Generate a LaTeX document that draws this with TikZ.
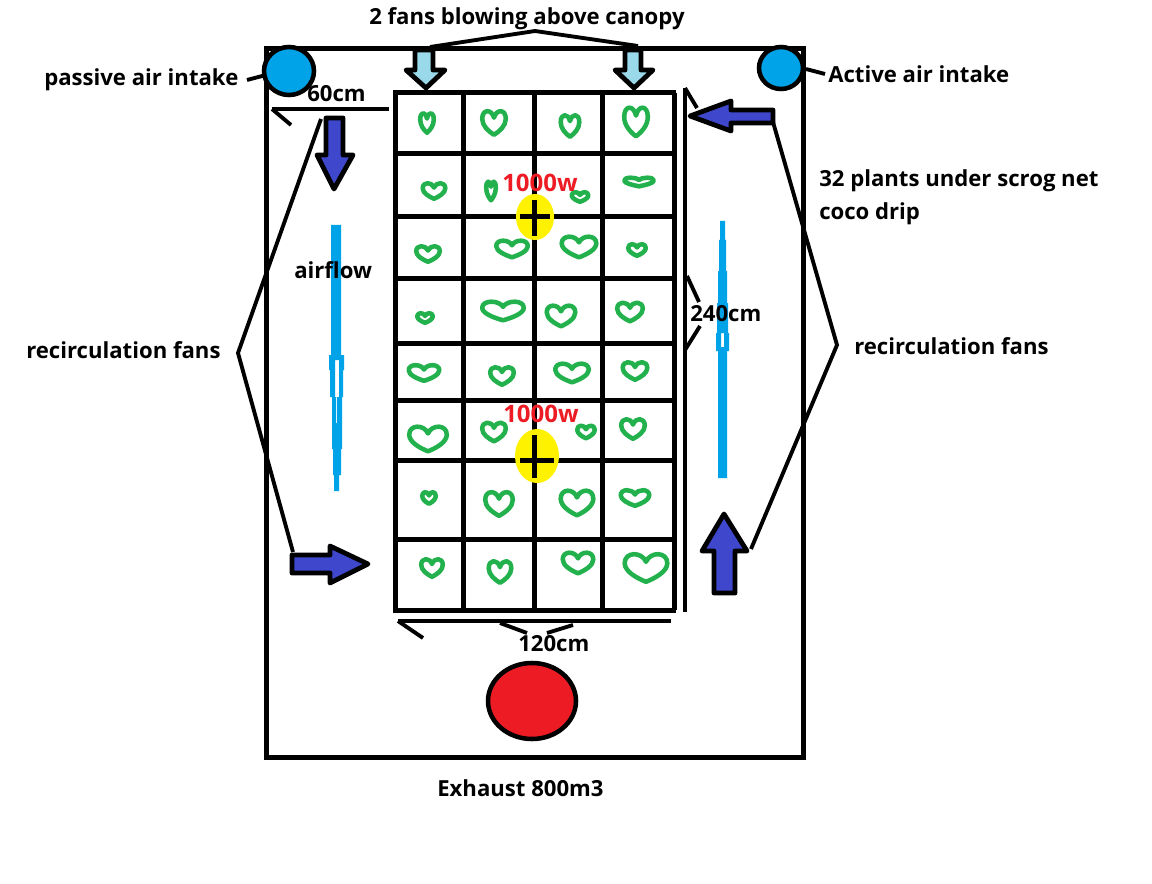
\documentclass[tikz,border=0pt]{standalone}
\usepackage{fontspec}
\setmainfont{Open Sans}
\usetikzlibrary{arrows.meta,positioning,calc}
\definecolor{Grow}{HTML}{22B14C}
\definecolor{Sky}{HTML}{00A2E8}
\definecolor{Pale}{HTML}{99D9EA}
\definecolor{Fan}{HTML}{3F48CC}
\definecolor{Lamp}{HTML}{FFF200}
\definecolor{Hot}{HTML}{ED1C24}
\tikzset{
  thick line/.style={black,line width=3.75pt},
  leader/.style={black,line width=2.9pt,line join=miter},
  tag/.style={font=\bfseries\fontsize{16.6}{20}\selectfont,text=black,inner sep=0pt},
  watt/.style={tag,font=\bfseries\fontsize{18}{20}\selectfont,text=Hot},
  block/.style={draw=black,line width=3.6pt,line join=round},
  plant/.style={draw=Grow,line width=3.4pt,line join=round},
  vane/.style={fill=Sky,draw=none},
}
\begin{document}
\begin{tikzpicture}[x=0.75pt,y=-0.75pt]
\useasboundingbox (0,0) rectangle (1152,884);
\fill[white] (0,0) rectangle (1152,884);
% tent
\draw[thick line] (266,49) rectangle (803,757);
% net
\foreach \gx in {395,463,534,602,674}
  \draw[thick line] (\gx,93) -- (\gx,610);
\foreach \gy in {93,154,217,278,343,400,460,539,610}
  \draw[thick line] (393,\gy) -- (676,\gy);
% plants
\foreach \hx/\hy/\hw/\hh in {
  427/123/18/24,494/123/28/28,570/126/23/26,636/122/28/33,
  434/191/27/20,491/191/14/23,580/197/21/14,639/182/34/13,
  428/254/28/20,512/249/36/21,579/247/39/25,637/250/22/16,
  425/318/20/14,503/311/46/23,561/316/33/25,630/312/30/23,
  424/373/35/20,502/376/28/22,572/373/38/23,635/371/29/22,
  428/439/42/29,494/432/28/23,586/432/22/17,633/429/28/24,
  429/498/18/16,499/504/32/28,577/503/37/29,635/498/33/20,
  432/568/26/22,500/572/27/26,578/563/35/25,646/568/47/32}
{
  \draw[plant,shift={(\hx,\hy)},xscale={(\hw-4.4)/2},yscale={(\hh-4.4)/2}]
    (0,1) .. controls (-0.45,0.72) and (-1,0.25) .. (-1,-0.35)
    .. controls (-1,-1.2) and (-0.2,-1.2) .. (0,-0.45)
    .. controls (0.2,-1.2) and (1,-1.2) .. (1,-0.35)
    .. controls (1,0.25) and (0.45,0.72) .. (0,1) -- cycle;
}
% lamps
\fill[Lamp] (535,217) ellipse (19 and 23);
\draw[thick line] (534,200) -- (534,236);
\draw[thick line] (520,217) -- (550,217);
\fill[Lamp] (537,456) ellipse (22 and 27);
\draw[thick line] (534,435) -- (534,478);
\draw[thick line] (520,460) -- (554,460);
% exhaust
\draw[black,fill=Hot,line width=3.4pt] (532,701) ellipse (44 and 38);
% intakes
\draw[black,fill=Sky,line width=3.4pt] (289,71) ellipse (25 and 24);
\draw[black,fill=Sky,line width=3.4pt] (781,68) ellipse (22 and 21);
% top fans
\draw[block,fill=Pale] (415,50) -- (433,50) -- (433,70) -- (445,70) -- (426,88) -- (406,70) -- (415,70) -- cycle;
\draw[block,fill=Pale] (625,50) -- (641,50) -- (641,70) -- (653,70) -- (634,88) -- (615,70) -- (625,70) -- cycle;
% recirculation fans
\draw[block,fill=Fan] (326,118) -- (343,118) -- (343,155) -- (353,155) -- (334,189) -- (317,155) -- (326,155) -- cycle;
\draw[block,fill=Fan] (292,555) -- (330,555) -- (330,546) -- (368,564) -- (330,583) -- (330,573) -- (292,573) -- cycle;
\draw[block,fill=Fan] (773,110) -- (731,110) -- (731,101) -- (690,116) -- (731,131) -- (731,123) -- (773,123) -- cycle;
\draw[block,fill=Fan] (714,593) -- (735,593) -- (735,551) -- (747,551) -- (724,514) -- (702,551) -- (714,551) -- cycle;
% airflow
\fill[vane,even odd rule] (331,225) -- (341,225) -- (341,355) -- (344,355) -- (344,370) -- (343,370) -- (343,397)
  -- (342,397) -- (342,449) -- (341,449) -- (341,475) -- (339,475) -- (339,491) -- (334,491) -- (334,475)
  -- (333,475) -- (333,449) -- (332,449) -- (332,397) -- (330,397) -- (330,370) -- (329,370) -- (329,355) -- (331,355) -- cycle
  (335,360) rectangle (339,397) (335.8,397) rectangle (336.8,423);
\fill[vane,even odd rule] (720,221) -- (725,221) -- (725,240) -- (726,240) -- (726,271) -- (727,271) -- (727,303)
  -- (728,303) -- (728,333) -- (729,333) -- (729,351) -- (727,351) -- (727,478) -- (718,478) -- (718,351)
  -- (716,351) -- (716,333) -- (717,333) -- (717,303) -- (718,303) -- (718,271) -- (719,271) -- (719,240) -- (720,240) -- cycle
  (721,333) rectangle (724,347);
% rulers
\coordinate (sidetop) at (685,88);
\coordinate (sidebot) at (685,612);
\draw[leader,line width=3.4pt] (sidetop) -- (sidebot);
\draw[leader] (sidetop) -- (697,108);
\draw[leader] (687,276) -- (699,302);
\draw[leader] (685,350) -- (700,326);
\draw[leader,line width=3.4pt] (272,109) -- (389,109);
\draw[leader] (272,109) -- (291,125);
\draw[leader,line width=3.4pt] (398,621) -- (671,621);
\draw[leader] (398,621) -- (423,638);
\draw[leader] (500,623) -- (527,633);
\draw[leader] (547,633) -- (573,625);
% leaders
\coordinate (topapex) at (535,31);
\coordinate (leftapex) at (238,353);
\coordinate (rightapex) at (837,345);
\draw[leader] (430,47) -- (topapex) -- (638,46);
\draw[leader] (321,119) -- (leftapex) -- (293,552);
\draw[leader] (773,122) -- (rightapex) -- (751,549);
\draw[leader] (247,80) -- (266,75);
\draw[leader] (806,69) -- (825,74);
% labels
\node[tag,anchor=west] (topfans) at (369,19) {2 fans blowing above canopy};
\node[tag,anchor=west] (passive) at (44,80) {passive air intake};
\node[tag,anchor=west] (active) at (828,74) {Active air intake};
\node[tag,anchor=west] (plants) at (819,181) {32 plants under scrog net};
\node[tag,anchor=west] (coco) at (819,214) {coco drip};
\node[tag,anchor=west] (recircleft) at (26,350) {recirculation fans};
\node[tag,anchor=west] (recircright) at (854,346) {recirculation fans};
\node[tag,anchor=west] (airflow) at (294,270) {airflow};
\node[tag,anchor=west] (exhaust) at (437,788) {Exhaust 800m3};
\node[tag,anchor=west] (depth) at (307,94) {60cm};
\node[tag,anchor=west] (length) at (690,314) {240cm};
\node[tag,anchor=west] (width) at (518,644) {120cm};
\node[watt,anchor=west] (wattup) at (502,183) {1000w};
\node[watt,anchor=west] (wattdown) at (503,414) {1000w};
\end{tikzpicture}
\end{document}
